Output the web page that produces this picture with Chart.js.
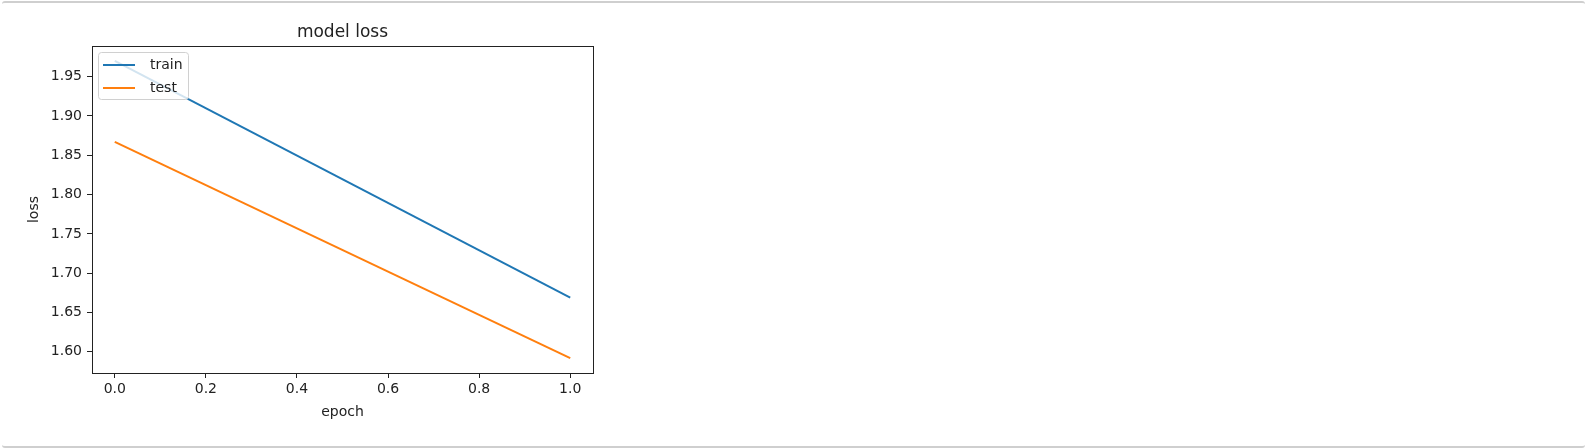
<!DOCTYPE html>
<html>
<head>
<meta charset="utf-8">
<script src="https://cdn.jsdelivr.net/npm/chart.js@4"></script>
<style>
    body { margin: 0; background: #fff; }
    .cell {
        position: absolute; left: 2px; top: 1px; width: 1583px; height: 443px;
        border-top: 2px solid #cfcfcf; border-bottom: 2px solid #cfcfcf;
        border-radius: 3px;
    }
    .wrap { position: absolute; left: 0; top: 0; width: 620px; height: 448px; }
</style>
</head>
<body>
<div class="cell"></div>
<div class="wrap"><canvas id="js--chart--loss"></canvas></div>
<script>
const epochs = [0, 1];
const trainLoss = [1.970, 1.669];
const testLoss = [1.867, 1.592];
const xTicks = [0, 0.2, 0.4, 0.6, 0.8, 1.0];
const yTicks = [1.60, 1.65, 1.70, 1.75, 1.80, 1.85, 1.90, 1.95];

const textColor = '#222';
const font = { family: "'DejaVu Sans'", size: 14 };

// matplotlib style: full frame round the axes, title centred over the axes
const frame = {
    id: 'frame',
    afterLayout(chart) {
        if (chart.titleBlock) {
            chart.titleBlock.left = chart.chartArea.left;
            chart.titleBlock.right = chart.chartArea.right;
            chart.titleBlock.width = chart.chartArea.right - chart.chartArea.left;
        }
    },
    afterDatasetsDraw(chart) {
        const a = chart.chartArea;
        const ctx = chart.ctx;
        ctx.save();
        ctx.strokeStyle = '#222';
        ctx.lineWidth = 1;
        ctx.strokeRect(Math.round(a.left) + 0.5, Math.round(a.top) + 0.5,
            Math.round(a.right - a.left), Math.round(a.bottom - a.top));
        ctx.restore();
    }
};

// legend inside the axes, upper left
const innerLegend = {
    id: 'innerLegend',
    afterDraw(chart) {
        const a = chart.chartArea;
        const ctx = chart.ctx;
        const x = a.left + 6, y = a.top + 6, w = 90, h = 47;
        ctx.save();
        ctx.fillStyle = 'rgba(255,255,255,0.8)';
        ctx.strokeStyle = '#d0d0d0';
        ctx.lineWidth = 1;
        ctx.beginPath();
        ctx.roundRect(x + 0.5, y + 0.5, w, h, 3);
        ctx.fill();
        ctx.stroke();
        ctx.font = "14px 'DejaVu Sans'";
        ctx.textBaseline = 'middle';
        chart.data.datasets.forEach(function(ds, i) {
            const ry = y + 13 + i * 23;
            ctx.strokeStyle = ds.borderColor;
            ctx.lineWidth = 2;
            ctx.beginPath();
            ctx.moveTo(x + 5, ry);
            ctx.lineTo(x + 37, ry);
            ctx.stroke();
            ctx.fillStyle = textColor;
            ctx.fillText(ds.label, x + 52, ry);
        });
        ctx.restore();
    }
};

const data = {
    datasets: [
        {
            label: 'train',
            data: epochs.map((e, i) => ({ x: e, y: trainLoss[i] })),
            borderColor: '#1f77b4',
            borderWidth: 2,
            pointRadius: 0,
            fill: false
        },
        {
            label: 'test',
            data: epochs.map((e, i) => ({ x: e, y: testLoss[i] })),
            borderColor: '#ff7f0e',
            borderWidth: 2,
            pointRadius: 0,
            fill: false
        }
    ]
};

const config = {
    type: 'line',
    data: data,
    options: {
        responsive: true,
        maintainAspectRatio: false,
        animation: false,
        layout: { padding: { left: 0, right: 27, top: 0, bottom: 25 } },
        plugins: {
            legend: { display: false },
            tooltip: { enabled: false },
            title: {
                display: true,
                text: 'model loss',
                color: textColor,
                font: { family: "'DejaVu Sans'", size: 17, weight: 'normal' },
                padding: { top: 22, bottom: 3.6 }
            }
        },
        scales: {
            x: {
                type: 'linear',
                min: -0.05,
                max: 1.05,
                afterBuildTicks: (scale) => { scale.ticks = xTicks.map(v => ({ value: v })); },
                afterFit: (scale) => { scale.height = 50; },
                border: { display: false },
                grid: { drawOnChartArea: false, drawTicks: true, tickLength: 5, color: '#222' },
                ticks: {
                    color: textColor, font: font, padding: 3, maxRotation: 0, autoSkip: false,
                    callback: (v) => v.toFixed(1)
                },
                title: { display: true, text: 'epoch', color: textColor, font: font, padding: { top: 0, bottom: 2 } }
            },
            y: {
                min: 1.573,
                max: 1.989,
                afterBuildTicks: (scale) => { scale.ticks = yTicks.map(v => ({ value: v })); },
                afterFit: (scale) => { scale.width = 92; },
                border: { display: false },
                grid: { drawOnChartArea: false, drawTicks: true, tickLength: 5, color: '#222' },
                ticks: {
                    color: textColor, font: font, padding: 5, autoSkip: false,
                    callback: (v) => v.toFixed(2)
                },
                title: { display: true, text: 'loss', color: textColor, font: font, padding: { top: 26, bottom: 0 } }
            }
        }
    },
    plugins: [frame, innerLegend]
};

new Chart(document.getElementById('js--chart--loss'), config);
</script>
</body>
</html>
